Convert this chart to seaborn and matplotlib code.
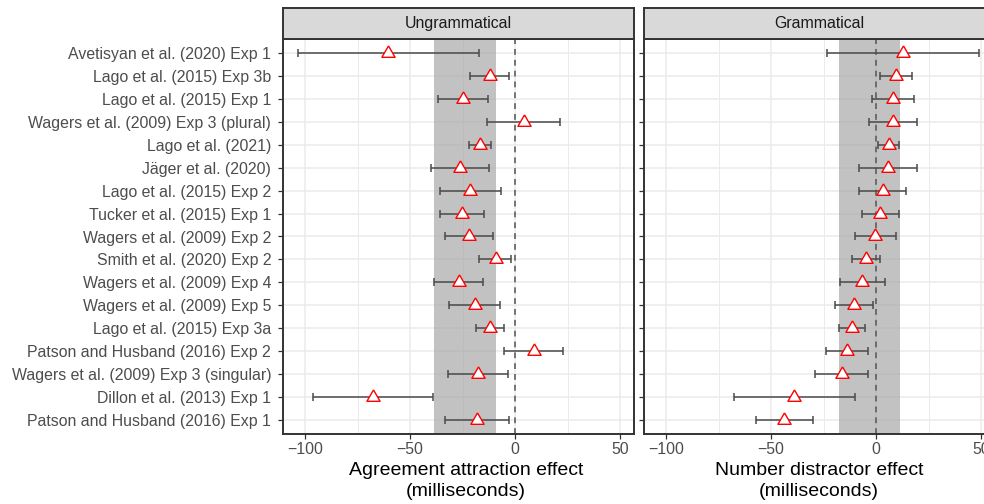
import numpy as np
import pandas as pd
import matplotlib
matplotlib.use("Agg")
import matplotlib.pyplot as plt
import seaborn as sns

# study labels, top to bottom
studies = [
    "Avetisyan et al. (2020) Exp 1",
    "Lago et al. (2015) Exp 3b",
    "Lago et al. (2015) Exp 1",
    "Wagers et al. (2009) Exp 3 (plural)",
    "Lago et al. (2021)",
    "Jäger et al. (2020)",
    "Lago et al. (2015) Exp 2",
    "Tucker et al. (2015) Exp 1",
    "Wagers et al. (2009) Exp 2",
    "Smith et al. (2020) Exp 2",
    "Wagers et al. (2009) Exp 4",
    "Wagers et al. (2009) Exp 5",
    "Lago et al. (2015) Exp 3a",
    "Patson and Husband (2016) Exp 2",
    "Wagers et al. (2009) Exp 3 (singular)",
    "Dillon et al. (2013) Exp 1",
    "Patson and Husband (2016) Exp 1",
]

# ungrammatical: agreement attraction effect (ms)
ungram_est = [-60.3, -12.2, -24.9, 4.1, -16.8, -26.2, -21.3, -25.4, -21.9,
              -9.2, -26.7, -19.2, -12.2, 8.9, -17.8, -67.5, -18.3]
ungram_lo = [-103.3, -21.4, -36.8, -13.2, -22.1, -40.0, -35.7, -35.7, -33.3,
             -17.0, -38.6, -31.3, -18.6, -5.2, -31.9, -96.0, -33.5]
ungram_hi = [-17.1, -3.0, -12.9, 21.4, -11.6, -12.4, -6.7, -14.9, -10.8,
             -1.9, -15.1, -7.1, -5.4, 22.9, -3.3, -39.0, -3.0]
ungram_band = [-38.8, -9.2]

# grammatical: number distractor effect (ms)
gram_est = [12.8, 9.2, 8.2, 8.2, 5.9, 5.6, 3.0, 1.9, -0.5,
            -4.8, -6.7, -10.6, -11.6, -13.8, -16.5, -38.9, -43.7]
gram_lo = [-23.3, 1.6, -1.8, -3.2, 0.8, -8.3, -8.0, -6.7, -10.3,
           -11.6, -17.3, -19.8, -17.9, -23.7, -29.1, -67.5, -57.0]
gram_hi = [49.0, 16.8, 18.2, 19.5, 10.9, 19.5, 14.0, 10.6, 9.2,
           1.9, 4.0, -1.6, -5.2, -3.8, -4.1, -10.0, -30.0]
gram_band = [-17.5, 11.2]

panels = ["Ungrammatical", "Grammatical"]
xlabels = ["Agreement attraction effect\n(milliseconds)",
           "Number distractor effect\n(milliseconds)"]

sns.set_theme(style="white")
plt.rcParams["font.family"] = ["Liberation Sans", "DejaVu Sans"]

W, H = 984, 504
fig = plt.figure(figsize=(W / 100, H / 100), dpi=100)

tri = [(0, 1.0), (-0.866, -0.5), (0.866, -0.5), (0, 1.0)]
border = "#333333"
grid = "#EBEBEB"

panel_left = [282.7, 643.7]
panel_w = 351.3
top_px, bot_px, strip_top = 39.3, 433.7, 8.3
title_x = [466, 819]

datasets = [(ungram_est, ungram_lo, ungram_hi, ungram_band),
            (gram_est, gram_lo, gram_hi, gram_band)]

for i, (est, lo, hi, band) in enumerate(datasets):
    df = pd.DataFrame({"study": studies, "est": est, "lo": lo, "hi": hi})
    df["pos"] = np.arange(len(df))

    ax = fig.add_axes([panel_left[i] / W, 1 - bot_px / H,
                       panel_w / W, (bot_px - top_px) / H])
    ax.set_facecolor("white")
    ax.set_xlim(-110.6, 56.5)
    ax.set_ylim(len(df) - 1 + 0.6, -0.6)

    # grid lines
    for v in [-75, -25, 25]:
        ax.axvline(v, color=grid, lw=0.7, zorder=0)
    for v in [-100, -50, 0, 50]:
        ax.axvline(v, color=grid, lw=1.1, zorder=0)
    for p in df["pos"]:
        ax.axhline(p, color=grid, lw=1.1, zorder=0)

    ax.axvspan(band[0], band[1], color="#A9A9A9", alpha=0.7, lw=0, zorder=1)
    ax.axvline(0, color="#5E5E5E", lw=1.2, ls=(0, (3.5, 3.0)), zorder=2)

    ax.errorbar(df["est"], df["pos"],
                xerr=[df["est"] - df["lo"], df["hi"] - df["est"]],
                fmt="none", ecolor="#4A4A4A", elinewidth=1.1,
                capsize=2.8, capthick=1.1, zorder=3)
    sns.scatterplot(data=df, x="est", y="pos", marker=tri, s=120,
                    facecolor="white", edgecolor="#FF0000", linewidth=1.0,
                    zorder=4, ax=ax)

    ax.set_xticks([-100, -50, 0, 50])
    ax.set_xticklabels(["\u2212100", "\u221250", "0", "50"])
    ax.set_yticks(df["pos"])
    if i == 0:
        ax.set_yticklabels(df["study"])
    else:
        ax.set_yticklabels([])
    ax.tick_params(axis="both", colors=border, labelcolor="#4D4D4D",
                   labelsize=11.4, length=3.5, width=0.9, pad=2.5,
                   left=True, bottom=True)
    ax.tick_params(axis="y", pad=4.8)
    ax.set_xlabel("")
    ax.set_ylabel("")
    for s in ax.spines.values():
        s.set_visible(True)
        s.set_color(border)
        s.set_linewidth(1.4)

    fig.text(title_x[i] / W, 1 - 481 / H, xlabels[i], ha="center",
             va="center", fontsize=14, color="black", linespacing=1.25)

    # facet strip
    sax = fig.add_axes([panel_left[i] / W, 1 - top_px / H,
                        panel_w / W, (top_px - strip_top) / H])
    sax.set_facecolor("#D9D9D9")
    sax.set_xticks([])
    sax.set_yticks([])
    for s in sax.spines.values():
        s.set_visible(True)
        s.set_color(border)
        s.set_linewidth(1.4)
    sax.text(0.5, 0.5, panels[i], ha="center", va="center",
             fontsize=11.4, color="#1A1A1A", transform=sax.transAxes)

fig.savefig("out.png", dpi=100)
